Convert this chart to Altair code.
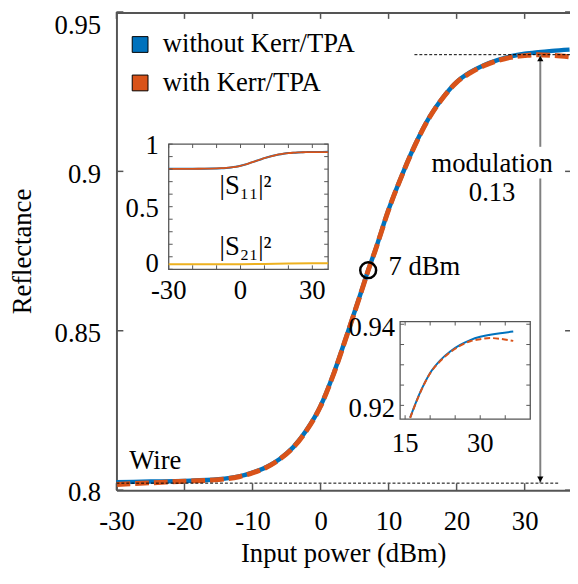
import altair as alt
import pandas as pd

# ---------------- data ----------------
x_power = [-30, -25, -20, -15, -12, -10, -8, -6, -4, -2, 0, 2, 4, 6, 7, 8, 10, 12,
           14, 16, 18, 20, 22, 24, 26, 28, 30, 32, 34, 36.6]
refl_without = [0.8025, 0.8027, 0.8029, 0.8034, 0.8043, 0.8055, 0.8072, 0.8098,
                0.8135, 0.8190, 0.8264, 0.8370, 0.8495, 0.8624, 0.8690, 0.8750,
                0.8880, 0.8990, 0.9088, 0.9170, 0.9232, 0.9280, 0.9311, 0.9333,
                0.9349, 0.9361, 0.9369, 0.9374, 0.9378, 0.9382]
refl_with = [0.8018, 0.8023, 0.8028, 0.8033, 0.8042, 0.8054, 0.8071, 0.8097,
             0.8134, 0.8189, 0.8263, 0.8369, 0.8494, 0.8623, 0.8689, 0.8749,
             0.8879, 0.8989, 0.9087, 0.9169, 0.9231, 0.9279, 0.9309, 0.9331,
             0.9347, 0.9358, 0.9363, 0.9366, 0.9364, 0.9359]
s21_x = [-30, -10, 0, 10, 20, 36.6]
s21_vals = [0.040, 0.040, 0.041, 0.043, 0.046, 0.048]

x_ticks = [-30, -20, -10, 0, 10, 20, 30]
y_ticks = [0.8, 0.85, 0.9, 0.95]
in1_xticks = [-30, -20, -10, 0, 10, 20, 30]
in1_yticks = [0, 0.1, 0.2, 0.3, 0.4, 0.5, 0.6, 0.7, 0.8, 0.9, 1.0]
in1_xlabels = [-30, 0, 30]
in1_ylabels = [0, 0.5, 1]
in2_xticks = [15, 20, 25, 30, 35]
in2_yticks = [0.92, 0.925, 0.93, 0.935, 0.94]
in2_xlabels = [15, 30]
in2_ylabels = [0.92, 0.94]
legend_labels = ["without Kerr/TPA", "with Kerr/TPA"]

wire_level = 0.8022
top_level = 0.9366
arrow_x = 32.3
marker_power = 7
marker_refl = 0.8690

# ---------------- styling ----------------
W, H = 460, 485
FONT = "Liberation Serif"
FS = 27
AX = "#555555"
BLUE = "#0072BD"
ORANGE = "#D95319"
YELLOW = "#EDB120"

df = pd.DataFrame({"x": x_power, "without": refl_without, "with": refl_with})
s21_df = pd.DataFrame({"x": s21_x, "s21": s21_vals})
one = pd.DataFrame({"a": [0]})

XS = alt.Scale(domain=[-30, 36.667], nice=False, zero=False)
YS = alt.Scale(domain=[0.8, 0.95], nice=False, zero=False)

X_AXIS = alt.Axis(values=x_ticks, labelExpr="'' + datum.value", title="Input power (dBm)",
                  ticks=False, grid=False, domainColor=AX, domainWidth=2,
                  labelFont=FONT, labelFontSize=FS, labelColor="black", labelPadding=19,
                  labelFlush=False, titleFont=FONT, titleFontSize=FS,
                  titleFontWeight="normal", titleColor="black", titlePadding=6)
Y_AXIS = alt.Axis(values=y_ticks, labelExpr="'' + datum.value", title="Reflectance",
                  ticks=False, grid=False, domainColor=AX, domainWidth=2,
                  labelFont=FONT, labelFontSize=FS, labelColor="black", labelPadding=16,
                  labelFlush=False, labelBaseline="middle",
                  labelOffset={"condition": {"test": "datum.value > 0.94", "value": 14},
                               "value": 3},
                  titleFont=FONT, titleFontSize=FS, titleFontWeight="normal",
                  titleColor="black", titlePadding=18)


def mx(field):
    return alt.X(f"{field}:Q", scale=XS, axis=X_AXIS)


def my(field):
    return alt.Y(f"{field}:Q", scale=YS, axis=Y_AXIS)


# ---------------- main plot ----------------
line_blue = alt.Chart(df).mark_line(color=BLUE, strokeWidth=4.5, interpolate="monotone").encode(
    x=mx("x"), y=my("without"))
line_orange = alt.Chart(df).mark_line(color=ORANGE, strokeWidth=5, strokeDash=[14, 5],
                                      interpolate="monotone").encode(x=mx("x"), y=my("with"))

xt = pd.DataFrame({"v": x_ticks})
yt = pd.DataFrame({"v": y_ticks})
tick_b = alt.Chart(xt).mark_rule(color=AX, strokeWidth=1.5).encode(
    x=mx("v"), y=alt.value(H), y2=alt.value(H - 7))
tick_t = alt.Chart(xt).mark_rule(color=AX, strokeWidth=1.5).encode(
    x=mx("v"), y=alt.value(0), y2=alt.value(7))
tick_l = alt.Chart(yt).mark_rule(color=AX, strokeWidth=1.5).encode(
    y=my("v"), x=alt.value(0), x2=alt.value(7))
tick_r = alt.Chart(yt).mark_rule(color=AX, strokeWidth=1.5).encode(
    y=my("v"), x=alt.value(W - 5), x2=alt.value(W))
top_border = alt.Chart(one).mark_rule(color=AX, strokeWidth=2).encode(
    x=alt.value(0), x2=alt.value(W), y=alt.value(1))

levels = pd.DataFrame({"x1": [-30, 13.8], "x2": [35.0, 36.667], "y": [wire_level, top_level]})
level_lines = alt.Chart(levels).mark_rule(color="black", strokeWidth=1, strokeDash=[3, 2]).encode(
    x=mx("x1"), x2="x2", y=my("y"))

arrow_df = pd.DataFrame({"x": [arrow_x, arrow_x], "y1": [top_level, 0.8978],
                         "y2": [0.9077, wire_level]})
arrow = alt.Chart(arrow_df).mark_rule(color="#808080", strokeWidth=2).encode(
    x=mx("x"), y=my("y1"), y2="y2")
head_up = alt.Chart(pd.DataFrame({"x": [arrow_x], "y": [top_level]})).mark_point(
    shape="triangle-up", filled=True, color="black", size=40, yOffset=4, opacity=1).encode(
    x=mx("x"), y=my("y"))
head_dn = alt.Chart(pd.DataFrame({"x": [arrow_x], "y": [wire_level]})).mark_point(
    shape="triangle-down", filled=True, color="black", size=40, yOffset=-4, opacity=1).encode(
    x=mx("x"), y=my("y"))
circle = alt.Chart(pd.DataFrame({"x": [marker_power], "y": [marker_refl]})).mark_point(
    shape="circle", filled=False, color="black", size=260, strokeWidth=2.5, opacity=1).encode(
    x=mx("x"), y=my("y"))


def txt(s, x, y, align="left"):
    return alt.Chart(one).mark_text(text=s, align=align, baseline="middle", font=FONT,
                                    fontSize=FS, color="black").encode(
        x=alt.value(x), y=alt.value(y))


texts = [
    txt("modulation", 381, 154, "center"),
    txt("0.13", 381, 184, "center"),
    txt("7 dBm", 276, 259),
    txt("Wire", 13, 456),
    txt(legend_labels[0], 47, 33),
    txt(legend_labels[1], 47, 72),
]
squares = [
    alt.Chart(one).mark_square(size=256, color=BLUE, stroke="black", strokeWidth=1,
                               opacity=1).encode(x=alt.value(24), y=alt.value(33)),
    alt.Chart(one).mark_square(size=256, color=ORANGE, stroke="black", strokeWidth=1,
                               opacity=1).encode(x=alt.value(24), y=alt.value(72)),
]

main_layer = alt.layer(line_blue, line_orange, level_lines, arrow, head_up, head_dn, circle,
                       tick_b, tick_t, tick_l, tick_r, top_border, *texts, *squares)


# ---------------- inset builder ----------------
def inset(xdom, xr, ydom, yr, lines, xticks, yticks, xlabels, ylabels, lab_gap,
          xlab_gap, ylab_dy, low_dy, tl=4):
    xs = alt.Scale(domain=xdom, range=xr, nice=False, zero=False)
    ys = alt.Scale(domain=ydom, range=yr, nice=False, zero=False, clamp=True)

    def ix(f):
        return alt.X(f"{f}:Q", scale=xs, axis=None)

    def iy(f):
        return alt.Y(f"{f}:Q", scale=ys, axis=None)

    x0, x1 = xr
    yb, ytp = yr
    box = alt.Chart(one).mark_rect(fill="white", stroke=AX, strokeWidth=1.3).encode(
        x=alt.value(x0), x2=alt.value(x1), y=alt.value(ytp), y2=alt.value(yb))
    layers = [box]
    for (data, f, color, dash, width) in lines:
        props = dict(color=color, strokeWidth=width, interpolate="monotone")
        if dash:
            props["strokeDash"] = dash
        layers.append(alt.Chart(data).mark_line(**props).encode(x=ix("x"), y=iy(f)))
    xtd = pd.DataFrame({"v": xticks})
    ytd = pd.DataFrame({"v": yticks})
    ylab = pd.DataFrame({"v": ylabels})
    lowest = min(ylabels)
    layers += [
        alt.Chart(xtd).mark_rule(color=AX, strokeWidth=1).encode(
            x=ix("v"), y=alt.value(yb), y2=alt.value(yb - tl)),
        alt.Chart(xtd).mark_rule(color=AX, strokeWidth=1).encode(
            x=ix("v"), y=alt.value(ytp), y2=alt.value(ytp + tl)),
        alt.Chart(ytd).mark_rule(color=AX, strokeWidth=1).encode(
            y=iy("v"), x=alt.value(x0), x2=alt.value(x0 + tl)),
        alt.Chart(ytd).mark_rule(color=AX, strokeWidth=1).encode(
            y=iy("v"), x=alt.value(x1), x2=alt.value(x1 - tl)),
        alt.Chart(pd.DataFrame({"v": xlabels})).transform_calculate(lab="'' + datum.v")
        .mark_text(font=FONT, fontSize=FS, color="black", baseline="top", align="center")
        .encode(x=ix("v"), y=alt.value(yb + xlab_gap), text="lab:N"),
        alt.Chart(ylab).transform_filter(f"datum.v > {lowest}")
        .transform_calculate(lab="'' + datum.v")
        .mark_text(font=FONT, fontSize=FS, color="black", baseline="middle", align="right",
                   dy=ylab_dy)
        .encode(y=iy("v"), x=alt.value(x0 - lab_gap), text="lab:N"),
        alt.Chart(ylab).transform_filter(f"datum.v <= {lowest}")
        .transform_calculate(lab="'' + datum.v")
        .mark_text(font=FONT, fontSize=FS, color="black", baseline="middle", align="right",
                   dy=low_dy)
        .encode(y=iy("v"), x=alt.value(x0 - lab_gap), text="lab:N"),
    ]
    return layers


in1 = inset([-30, 36.6], [53, 214.7], [0, 1], [261, 134],
            [(df, "without", BLUE, None, 2), (df, "with", ORANGE, None, 1.8),
             (s21_df, "s21", YELLOW, None, 2)],
            in1_xticks, in1_yticks, in1_xlabels, in1_ylabels, 10, 9, 2, -5)
in1 += [txt("|S₁₁|²", 131, 177, "center"), txt("|S₂₁|²", 131, 238, "center")]
inset1 = alt.layer(*in1)

df2 = df[df["x"] >= 16]
in2 = inset([14, 40], [287.7, 419.7], [0.9166, 0.94066], [413, 314],
            [(df2, "without", BLUE, None, 2), (df2, "with", ORANGE, [6, 3], 2)],
            in2_xticks, in2_yticks, in2_xlabels, in2_ylabels, 5, 12, 4, 4)
inset2 = alt.layer(*in2)

chart = (
    alt.layer(main_layer, inset1, inset2)
    .resolve_scale(x="independent", y="independent")
    .properties(width=W, height=H,
                padding={"left": 110, "top": 0, "right": 0, "bottom": 80},
                autosize=alt.AutoSizeParams(type="none"))
    .configure_view(stroke=None)
)

chart.save("out.html", embed_options={"renderer": "svg", "actions": False})
